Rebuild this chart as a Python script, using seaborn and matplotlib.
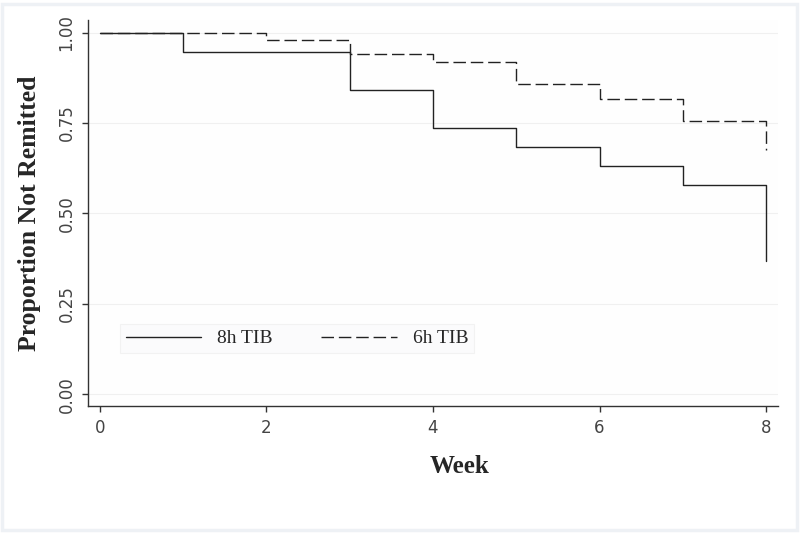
import pandas as pd
import matplotlib.pyplot as plt
import seaborn as sns
from matplotlib.patches import Rectangle

# Kaplan-Meier style step curves
weeks_8h = [0, 1, 3, 4, 5, 6, 7, 8]
surv_8h = [1.000, 0.947, 0.842, 0.737, 0.684, 0.632, 0.579, 0.368]
weeks_6h = [0, 2, 3, 4, 5, 6, 7, 8]
surv_6h = [1.000, 0.981, 0.941, 0.918, 0.858, 0.816, 0.755, 0.675]

y_ticks = [0.00, 0.25, 0.50, 0.75, 1.00]
y_tick_labels = ["0.00", "0.25", "0.50", "0.75", "1.00"]
x_ticks = [0, 2, 4, 6, 8]

df8 = pd.DataFrame({"Week": weeks_8h, "p": surv_8h})
df6 = pd.DataFrame({"Week": weeks_6h, "p": surv_6h})

sns.set_style("white")

fig = plt.figure(figsize=(8, 5.33), dpi=100, facecolor="white")
# faint outer graph-region frame
fig.patches.append(Rectangle((0.002, 0.006), 0.994, 0.986, transform=fig.transFigure,
                             fill=False, edgecolor="#eef1f5", linewidth=2.5, zorder=0))
ax = fig.add_axes([0.11, 0.238, 0.8625, 0.7245])
ax.set_facecolor("#fefefe")

sns.lineplot(data=df8, x="Week", y="p", ax=ax, estimator=None, drawstyle="steps-post",
             color="#222222", linewidth=1.0, label="8h TIB")
sns.lineplot(data=df6, x="Week", y="p", ax=ax, estimator=None, drawstyle="steps-post",
             color="#222222", linewidth=1.0, linestyle=(0, (9, 3.5)), label="6h TIB")

ax.set_xlim(-0.144, 8.144)
ax.set_ylim(-0.033, 1.035)

for y in y_ticks:
    ax.axhline(y, color="#f0f0f0", linewidth=0.8, zorder=0)

for s in ["top", "right"]:
    ax.spines[s].set_visible(False)
for s in ["left", "bottom"]:
    ax.spines[s].set_color("#333333")
    ax.spines[s].set_linewidth(1.0)

tick_font = {"family": ["Liberation Sans Narrow", "DejaVu Sans"], "size": 12}
ax.set_xticks(x_ticks)
ax.set_xticklabels([str(x) for x in x_ticks], fontdict=tick_font, color="#444444")
ax.set_yticks(y_ticks)
ax.set_yticklabels(y_tick_labels, fontdict=tick_font, color="#444444",
                   rotation=90, va="center")
ax.tick_params(axis="both", direction="out", length=4, width=1.0, color="#333333",
               left=True, bottom=True, pad=5)

serif = ["Liberation Serif", "DejaVu Serif"]
ax.set_xlabel("Week", family=serif, fontweight="bold", fontsize=18)
ax.xaxis.set_label_coords(0.539, -0.127)
ax.set_ylabel("Proportion Not Remitted", family=serif, fontweight="bold", fontsize=18.5,
              labelpad=12)

leg = ax.legend(loc="lower left", bbox_to_anchor=(0.046, 0.137), ncol=2,
                prop={"family": serif, "size": 14}, handlelength=3.9,
                columnspacing=2.5, handletextpad=0.8, borderpad=0.3,
                borderaxespad=0, frameon=True, fancybox=False)
leg.get_frame().set_facecolor("#fbfbfc")
leg.get_frame().set_edgecolor("#f0f0f0")
leg.get_frame().set_linewidth(0.8)

fig.savefig("out.png", dpi=100, facecolor="white")
